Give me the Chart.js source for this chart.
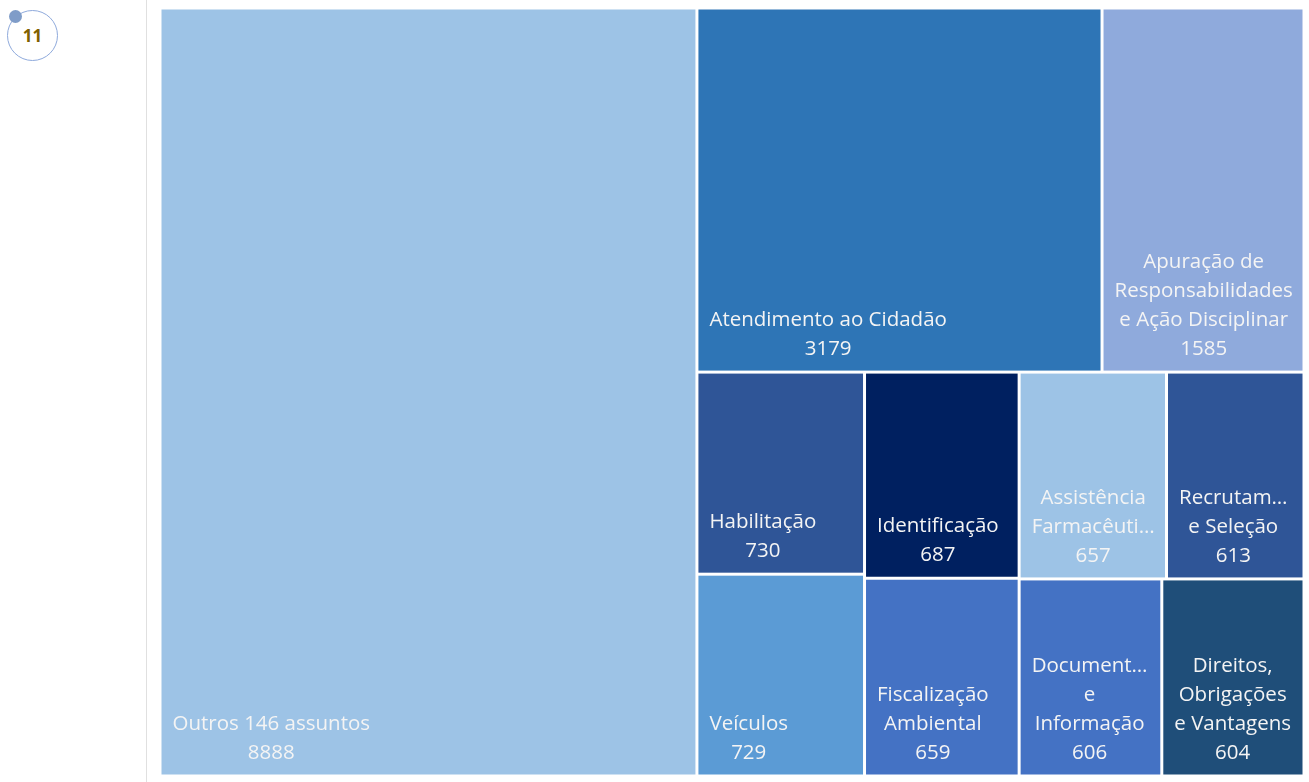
<!DOCTYPE html>
<html>
<head>
<meta charset="utf-8">
<script src="https://cdn.jsdelivr.net/npm/chart.js@4.4.0/dist/chart.umd.min.js"></script>
<style>
  body { margin: 0; background: #fff; overflow: hidden; font-family: "Open Sans", sans-serif; }
  .badge { position: absolute; left: 7px; top: 10px; width: 49px; height: 49px; border: 1px solid #8faadc; border-radius: 50%;
           display: flex; align-items: center; justify-content: center; color: #7f6000; font-weight: bold; font-size: 17px; }
  .dot { position: absolute; left: 9px; top: 10px; width: 13px; height: 13px; border-radius: 50%; background: #7f9cc8; }
  .vline { position: absolute; left: 146px; top: 0; width: 1px; height: 782px; background: #e0e0e0; }
  #wrap { position: absolute; left: 150px; top: 0; width: 1159px; height: 782px; }
</style>
</head>
<body>
<div class="badge">11</div>
<div class="dot"></div>
<div class="vline"></div>
<div id="wrap"><canvas id="treemap"></canvas></div>
<script>
// assuntos, já ordenados do maior para o menor
const labels = ["Outros 146 assuntos", "Atendimento ao Cidadão", "Apuração de Responsabilidades e Ação Disciplinar",
  "Habilitação", "Veículos", "Identificação", "Fiscalização Ambiental", "Assistência Farmacêutica",
  "Recrutamento e Seleção", "Documentação e Informação", "Direitos, Obrigações e Vantagens"];
const values = [8888, 3179, 1585, 730, 729, 687, 659, 657, 613, 606, 604];
const colors = ["#9dc3e6", "#2e75b6", "#8faadc", "#2f5597", "#5b9bd5", "#002060", "#4472c4", "#9dc3e6",
  "#2f5597", "#4472c4", "#1f4e79"];

const sum = arr => arr.reduce((a, b) => a + b, 0);

function worst(row, side) {
  const s = sum(row), mx = Math.max(...row), mn = Math.min(...row);
  return Math.max(side * side * mx / (s * s), (s * s) / (side * side * mn));
}

// squarified treemap in a w x h box
function squarify(vals, x, y, w, h) {
  const k = w * h / sum(vals);
  const areas = vals.map(v => v * k);
  const out = [];
  let i = 0;
  while (i < areas.length) {
    const side = Math.min(w, h);
    const row = [areas[i]];
    let j = i + 1;
    while (j < areas.length && worst(row.concat(areas[j]), side) <= worst(row, side)) {
      row.push(areas[j]);
      j++;
    }
    const s = sum(row);
    if (w >= h) {
      const sw = s / h;
      let cy = y;
      row.forEach(a => { out.push({ x: x, y: cy, w: sw, h: a / sw }); cy += a / sw; });
      x += sw; w -= sw;
    } else {
      const sh = s / w;
      let cx = x;
      row.forEach(a => { out.push({ x: cx, y: y, w: a / sh, h: sh }); cx += a / sh; });
      y += sh; h -= sh;
    }
    i = j;
  }
  return out;
}

function fitWord(ctx, word, maxW) {
  if (ctx.measureText(word).width <= maxW) return word;
  let w = word;
  while (w.length > 1 && ctx.measureText(w + "…").width > maxW) w = w.slice(0, -1);
  return w + "…";
}

function wrap(ctx, text, maxW) {
  const words = text.split(" ");
  const lines = [];
  let cur = "";
  words.forEach(wd => {
    const test = cur ? cur + " " + wd : wd;
    if (ctx.measureText(test).width <= maxW) cur = test;
    else {
      if (cur) lines.push(cur);
      cur = fitWord(ctx, wd, maxW);
    }
  });
  if (cur) lines.push(cur);
  return lines;
}

const treemapPlugin = {
  id: "treemap",
  beforeDatasetsDraw(chart) {
    const { ctx, chartArea, scales: { x, y } } = chart;
    const aspect = chartArea.width / chartArea.height;
    const rects = squarify(values, 0, 0, aspect, 1);
    const gap = 1.5, pad = 10, lineH = 29;
    ctx.save();
    rects.forEach((r, i) => {
      const x0 = x.getPixelForValue(r.x / aspect) + gap;
      const x1 = x.getPixelForValue((r.x + r.w) / aspect) - gap;
      const y0 = y.getPixelForValue(r.y) + gap;
      const y1 = y.getPixelForValue(r.y + r.h) - gap;
      ctx.fillStyle = colors[i];
      ctx.fillRect(x0, y0, x1 - x0, y1 - y0);

      ctx.font = '20.5px "Open Sans"';
      const maxW = x1 - x0 - 2 * pad;
      const lines = wrap(ctx, labels[i], maxW).concat(String(values[i]));
      const blockW = Math.max(...lines.map(l => ctx.measureText(l).width));
      const cx = blockW <= maxW ? x0 + pad + 1 + blockW / 2 : (x0 + x1) / 2;
      ctx.fillStyle = "#f4f4f4";
      ctx.textAlign = "center";
      ctx.textBaseline = "middle";
      lines.slice().reverse().forEach((l, k) => {
        ctx.fillText(l, cx, y1 - 21.5 - k * lineH);
      });
    });
    ctx.restore();
  }
};

new Chart(document.getElementById("treemap"), {
  type: "scatter",
  data: { datasets: [{ data: [] }] },
  options: {
    responsive: true,
    maintainAspectRatio: false,
    animation: false,
    layout: { padding: { left: 10, right: 5, top: 8, bottom: 6 } },
    plugins: { legend: { display: false }, tooltip: { enabled: false } },
    scales: {
      x: { type: "linear", min: 0, max: 1, display: false },
      y: { type: "linear", min: 0, max: 1, reverse: true, display: false }
    }
  },
  plugins: [treemapPlugin]
});
</script>
</body>
</html>
